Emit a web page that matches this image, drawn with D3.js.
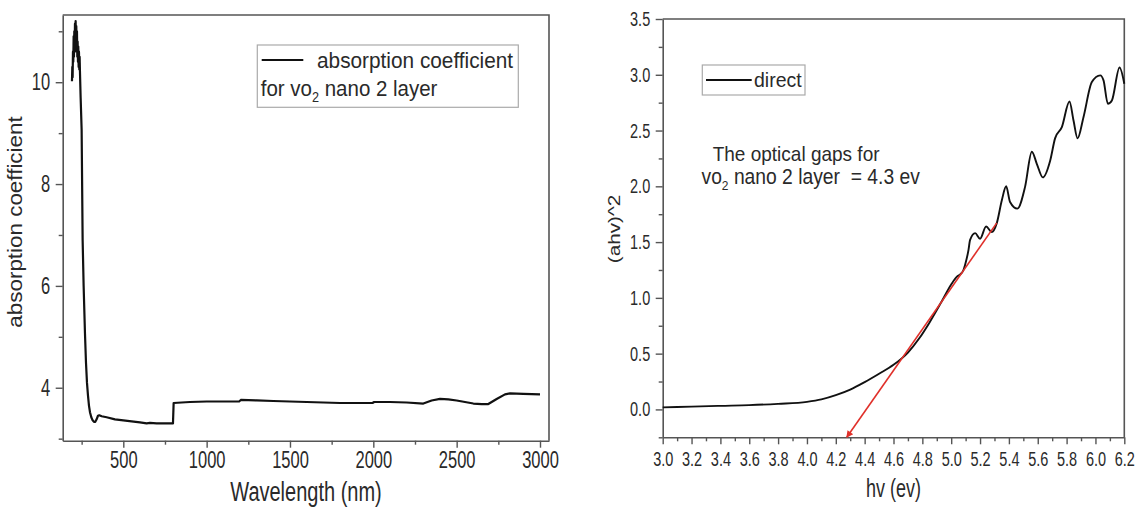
<!DOCTYPE html>
<html><head><meta charset="utf-8">
<script src="https://cdn.jsdelivr.net/npm/d3@7"></script>
<style>
html,body{margin:0;padding:0;background:#fff;}
svg{display:block;font-family:"Liberation Sans",Arial,sans-serif;}
</style></head>
<body><svg id="c" width="1142" height="512"></svg>
<script>
// ---------- data: left panel (absorption coefficient vs wavelength) ----------
const wavelength = [192,194,196,198,200,202,204,206,208,210,212,214,216,218,220,222,224,226,228,230,232,234,236,238,240,244,250,256,262,270,276,282,288,294,300,308,316,324,332,340,348,356,370,400,450,500,550,600,640,660,700,750,798,802,850,900,1000,1100,1195,1205,1300,1400,1500,1600,1700,1800,1900,1995,2005,2100,2200,2300,2350,2400,2450,2500,2550,2600,2650,2690,2740,2790,2820,2900,3000];
const absorption = [10.02,10.3,10.1,10.6,10.4,10.9,10.5,11.0,10.6,11.15,10.7,11.2,10.8,11.1,10.6,11.0,10.5,10.8,10.4,10.7,10.3,10.6,10.25,10.5,10.2,9.7,9.06,6.9,6.0,5.07,4.5,4.1,3.85,3.65,3.52,3.42,3.36,3.33,3.33,3.38,3.45,3.46,3.44,3.42,3.38,3.36,3.34,3.32,3.30,3.31,3.30,3.30,3.30,3.70,3.71,3.72,3.73,3.73,3.73,3.76,3.75,3.74,3.73,3.72,3.71,3.70,3.70,3.70,3.72,3.72,3.71,3.69,3.75,3.78,3.77,3.75,3.72,3.69,3.68,3.68,3.78,3.87,3.89,3.88,3.87];
const leftXTicks = [500,1000,1500,2000,2500,3000];
const leftXMinor = [250,750,1250,1750,2250,2750];
const leftYTicks = [4,6,8,10];
const leftYMinor = [3,5,7,9,11];

// ---------- data: right panel ((ahv)^2 vs hv) ----------
const hv = [3.0,3.2,3.4,3.6,3.8,4.0,4.1,4.2,4.3,4.4,4.5,4.6,4.7,4.78,4.85,4.935,5.0,5.04,5.062,5.085,5.097,5.12,5.131,5.166,5.2,5.242,5.281,5.316,5.351,5.381,5.408,5.459,5.512,5.559,5.594,5.635,5.686,5.72,5.767,5.82,5.848,5.876,5.917,5.975,6.033,6.056,6.086,6.114,6.167,6.2];
const ahv2 = [0.018,0.025,0.032,0.038,0.05,0.068,0.09,0.128,0.178,0.245,0.32,0.40,0.51,0.64,0.78,0.97,1.12,1.19,1.21,1.25,1.30,1.43,1.52,1.58,1.53,1.64,1.59,1.67,1.875,2.0,1.86,1.80,1.995,2.31,2.20,2.08,2.23,2.43,2.53,2.76,2.59,2.43,2.62,2.935,2.995,2.95,2.74,2.77,3.065,2.92];
const fitHv = [4.276, 5.316];
const fitY = [-0.25, 1.672];
const rightXTicks = [3.0,3.2,3.4,3.6,3.8,4.0,4.2,4.4,4.6,4.8,5.0,5.2,5.4,5.6,5.8,6.0,6.2];
const rightXMinor = [3.1,3.3,3.5,3.7,3.9,4.1,4.3,4.5,4.7,4.9,5.1,5.3,5.5,5.7,5.9,6.1];
const rightYTicks = [0.0,0.5,1.0,1.5,2.0,2.5,3.0,3.5];
const rightYMinor = [-0.25,0.25,0.75,1.25,1.75,2.25,2.75,3.25];

// ---------- drawing ----------
const svg = d3.select('#c');
const AX = '#555', TXT = '#2a2a2a';

svg.append('defs').append('marker')
  .attr('id','arr').attr('viewBox','0 0 10 10').attr('refX',9).attr('refY',5)
  .attr('markerWidth',9).attr('markerHeight',7).attr('markerUnits','userSpaceOnUse')
  .attr('orient','auto-start-reverse')
  .append('path').attr('d','M0,0 L10,5 L0,10 z').attr('fill','#e0302a');

function label(parent, x, y, size, sy, anchor, parts, rotate) {
  const g = parent.append('g').attr('transform', `translate(${x},${y}) scale(1,${sy})` + (rotate ? ' rotate(-90)' : ''));
  const t = g.append('text').attr('font-size', size).attr('fill', TXT).attr('text-anchor', anchor)
    .style('white-space','pre');
  parts.forEach(p => {
    const ts = t.append('tspan').text(p.t);
    if (p.sub) ts.attr('font-size', size*0.62).attr('dy', size*0.28);
    if (p.after) ts.attr('dy', -size*0.28);
  });
  return t;
}

function panel(o) {
  const x = d3.scaleLinear().domain(o.xd).range(o.xr);
  const y = d3.scaleLinear().domain(o.yd).range(o.yr);
  const g = svg.append('g');
  g.append('path').attr('d', `M${o.xr[0]},${o.yr[1]} H${o.xr[1]} V${o.yr[0]}`)
    .attr('fill','none').attr('stroke',AX).attr('stroke-width',1.6);
  const mx = g.append('g').attr('transform',`translate(0,${o.yr[0]})`)
    .call(d3.axisBottom(x).tickValues(o.xMinor).tickSize(4).tickFormat(''));
  const my = g.append('g').attr('transform',`translate(${o.xr[0]},0)`)
    .call(d3.axisLeft(y).tickValues(o.yMinor).tickSize(4).tickFormat(''));
  const ax = g.append('g').attr('transform',`translate(0,${o.yr[0]})`)
    .call(d3.axisBottom(x).tickValues(o.xTicks).tickSize(7).tickSizeOuter(0).tickFormat(o.xf));
  const ay = g.append('g').attr('transform',`translate(${o.xr[0]},0)`)
    .call(d3.axisLeft(y).tickValues(o.yTicks).tickSize(7).tickSizeOuter(0).tickFormat(o.yf));
  [mx,my,ax,ay].forEach(a => {
    a.select('.domain').attr('stroke',AX).attr('stroke-width',1.6);
    a.selectAll('.tick line').attr('stroke',AX).attr('stroke-width',1.4);
  });
  mx.select('.domain').remove(); my.select('.domain').remove();
  ax.selectAll('.tick text').attr('font-family','"Liberation Sans",Arial,sans-serif')
    .attr('font-size', o.tf).attr('fill',TXT).attr('y',0).attr('dy','0.71em')
    .attr('transform', `translate(0,${o.xlo}) scale(1,1.4)`);
  ay.selectAll('.tick text').attr('font-family','"Liberation Sans",Arial,sans-serif')
    .attr('font-size', o.tf).attr('fill',TXT).attr('x', -o.ylo).attr('dy','0.32em')
    .attr('transform', 'scale(1,1.4)');
  return {x, y, g};
}

// Left panel
const L = panel({xd:[136.4,3054], xr:[62.7,549], yd:[2.96,11.32], yr:[440.7,15],
  xTicks:leftXTicks, xMinor:leftXMinor, yTicks:leftYTicks, yMinor:leftYMinor,
  xf:d3.format('d'), yf:d3.format('d'), tf:16.5, xlo:11, ylo:12.5});
L.g.append('path').datum(d3.zip(wavelength, absorption))
  .attr('d', d3.line().x(d=>L.x(d[0])).y(d=>L.y(d[1])))
  .attr('fill','none').attr('stroke','#111').attr('stroke-width',2.2).attr('stroke-linejoin','round');
label(L.g, 306, 501, 20, 1.4, 'middle', [{t:'Wavelength (nm)'}]);
label(L.g, 22, 222, 19.5, 1.15, 'middle', [{t:'absorption coefficient'}], true);
L.g.append('rect').attr('x',257.3).attr('y',45).attr('width',261).attr('height',62.3)
  .attr('fill','#fff').attr('stroke','#aaa').attr('stroke-width',1.2);
L.g.append('line').attr('x1',261.7).attr('x2',303.3).attr('y1',60).attr('y2',60)
  .attr('stroke','#111').attr('stroke-width',2.2);
label(L.g, 317, 68, 20.8, 1.1, 'start', [{t:'absorption coefficient'}]);
label(L.g, 260.7, 95.5, 20.5, 1.1, 'start', [{t:'for vo'},{t:'2',sub:true},{t:' nano 2 layer',after:true}]);

// Right panel
const R = panel({xd:[3.0,6.2], xr:[662.7,1124.3], yd:[-0.25,3.5], yr:[437.3,19],
  xTicks:rightXTicks, xMinor:rightXMinor, yTicks:rightYTicks, yMinor:rightYMinor,
  xf:d3.format('.1f'), yf:d3.format('.1f'), tf:14.5, xlo:14, ylo:12.5});
R.g.append('path').datum(d3.zip(hv, ahv2))
  .attr('d', d3.line().curve(d3.curveMonotoneX).x(d=>R.x(d[0])).y(d=>R.y(d[1])))
  .attr('fill','none').attr('stroke','#111').attr('stroke-width',1.9).attr('stroke-linejoin','round');
R.g.append('path').datum(d3.zip(fitHv, fitY))
  .attr('d', d3.line().x(d=>R.x(d[0])).y(d=>R.y(d[1])))
  .attr('fill','none').attr('stroke','#e0302a').attr('stroke-width',1.6)
  .attr('marker-start','url(#arr)');
label(R.g, 893.5, 496.5, 18, 1.4, 'middle', [{t:'hv (ev)'}]);
label(R.g, 620, 229, 17, 1.22, 'middle', [{t:'(ahv)^2'}], true);
R.g.append('rect').attr('x',702.3).attr('y',65).attr('width',102.7).attr('height',30)
  .attr('fill','#fff').attr('stroke','#aaa').attr('stroke-width',1.2);
R.g.append('line').attr('x1',706).attr('x2',751.7).attr('y1',80).attr('y2',80)
  .attr('stroke','#111').attr('stroke-width',1.9);
label(R.g, 754, 86.5, 19.5, 1.0, 'start', [{t:'direct'}]);
label(R.g, 712.7, 161, 19, 1.1, 'start', [{t:'The optical gaps for'}]);
label(R.g, 701.5, 184, 19.3, 1.1, 'start', [{t:'vo'},{t:'2',sub:true},{t:' nano 2 layer\u00a0\u00a0= 4.3 ev',after:true}]);
</script></body></html>
